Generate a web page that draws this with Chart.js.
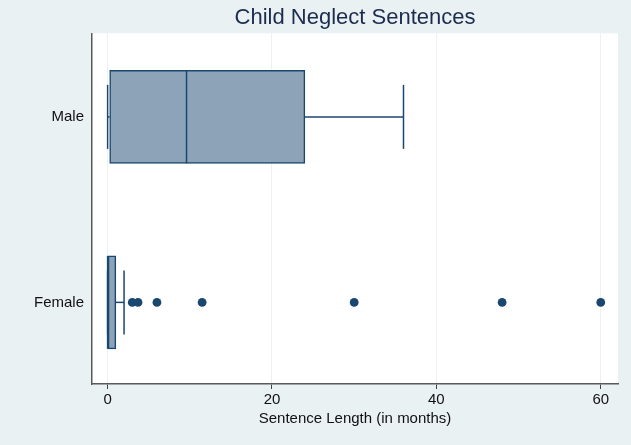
<!DOCTYPE html>
<html>
<head>
<meta charset="utf-8">
<title>Child Neglect Sentences</title>
<script src="https://cdn.jsdelivr.net/npm/chart.js@4/dist/chart.umd.min.js"></script>
<style>
  body { margin: 0; background: #eaf1f3; }
  canvas { display: block; }
</style>
</head>
<body>
<canvas id="box-chart" width="631" height="445"></canvas>
<script>
// groups, bottom to top (index = position on the y axis)
const categories = ['Female', 'Male'];
const mins    = [0, 0];
const q1s     = [0, 0.25];
const medians = [0, 9.6];
const q3s     = [1, 24];
const maxs    = [2, 36];
// outside values (only the Female group has any)
const femaleOutliers = [3, 3.7, 6, 11.5, 30, 48, 60];
const xTicks = [0, 20, 40, 60];

const navy = '#1a476f';
const boxFill = '#8da3b8';

// whiskers + median lines, drawn from the same arrays through the scales
const boxLines = {
  id: 'boxLines',
  beforeDraw(chart) {
    const {ctx, chartArea: a} = chart;
    ctx.save();
    ctx.fillStyle = '#eaf1f3';
    ctx.fillRect(0, 0, chart.width, chart.height);
    ctx.fillStyle = '#ffffff';
    ctx.fillRect(a.left, a.top, a.right - a.left, a.bottom - a.top);
    ctx.restore();
  },
  afterDatasetsDraw(chart) {
    const {ctx} = chart;
    const x = chart.scales.x, y = chart.scales.y;
    const capHalf = 32, boxHalf = 46.5;
    ctx.save();
    ctx.strokeStyle = navy;
    ctx.lineWidth = 1.5;
    categories.forEach((c, i) => {
      const yc = y.getPixelForValue(i);
      const segs = [
        [x.getPixelForValue(q3s[i]), yc, x.getPixelForValue(maxs[i]), yc],
        [x.getPixelForValue(maxs[i]), yc - capHalf, x.getPixelForValue(maxs[i]), yc + capHalf],
        [x.getPixelForValue(mins[i]), yc, x.getPixelForValue(q1s[i]), yc],
        [x.getPixelForValue(mins[i]), yc - capHalf, x.getPixelForValue(mins[i]), yc + capHalf],
        [x.getPixelForValue(medians[i]), yc - boxHalf, x.getPixelForValue(medians[i]), yc + boxHalf]
      ];
      segs.forEach(s => {
        ctx.beginPath();
        ctx.moveTo(s[0], s[1]);
        ctx.lineTo(s[2], s[3]);
        ctx.stroke();
      });
    });
    ctx.restore();
  }
};

const chart = new Chart(document.getElementById('box-chart'), {
  type: 'bar',
  data: {
    datasets: [
      {
        label: 'box',
        data: categories.map((c, i) => ({x: [q1s[i], q3s[i]], y: i})),
        backgroundColor: boxFill,
        borderColor: navy,
        borderWidth: 1.5,
        borderSkipped: false,
        barThickness: 93,
        order: 2
      },
      {
        type: 'scatter',
        label: 'outliers',
        indexAxis: 'x',
        data: femaleOutliers.map(v => ({x: v, y: 0})),
        backgroundColor: navy,
        borderColor: navy,
        pointRadius: 4.4,
        pointBorderWidth: 0,
        order: 1
      }
    ]
  },
  options: {
    indexAxis: 'y',
    responsive: false,
    animation: false,
    layout: { padding: { left: 0, right: 13, top: 0, bottom: 0 } },
    plugins: {
      legend: { display: false },
      tooltip: { enabled: false },
      title: {
        display: true,
        text: 'Child Neglect Sentences',
        fullSize: false,
        color: '#1c2c4e',
        font: { family: 'Liberation Sans, Arial, sans-serif', size: 22, weight: 'normal', lineHeight: 1.2 },
        padding: { top: 5, bottom: 2 }
      }
    },
    scales: {
      x: {
        type: 'linear',
        min: -1.9,
        max: 62.1,
        afterBuildTicks: s => { s.ticks = xTicks.map(v => ({value: v})); },
        afterFit: s => { s.height = 61; },
        grid: { color: '#e9f1f3', lineWidth: 1, tickColor: '#444', tickLength: 5, tickWidth: 1 },
        border: { color: '#5a5a5a', width: 1.5 },
        ticks: {
          color: '#111',
          padding: 2,
          maxRotation: 0,
          font: { family: 'Liberation Sans, Arial, sans-serif', size: 15 }
        },
        title: {
          display: true,
          text: 'Sentence Length (in months)',
          color: '#111',
          font: { family: 'Liberation Sans, Arial, sans-serif', size: 15 },
          padding: { top: 0, bottom: 17 }
        }
      },
      y: {
        type: 'linear',
        offset: false,
        min: -0.44,
        max: 1.45,
        afterBuildTicks: s => { s.ticks = categories.map((c, i) => ({value: i})); },
        afterFit: s => { s.width = 92; },
        grid: { display: false, drawTicks: false, offset: false },
        border: { color: '#5a5a5a', width: 1.5 },
        ticks: {
          color: '#111',
          padding: 8,
          callback: v => categories[v],
          font: { family: 'Liberation Sans, Arial, sans-serif', size: 15 }
        }
      }
    }
  },
  plugins: [boxLines]
});
</script>
</body>
</html>
